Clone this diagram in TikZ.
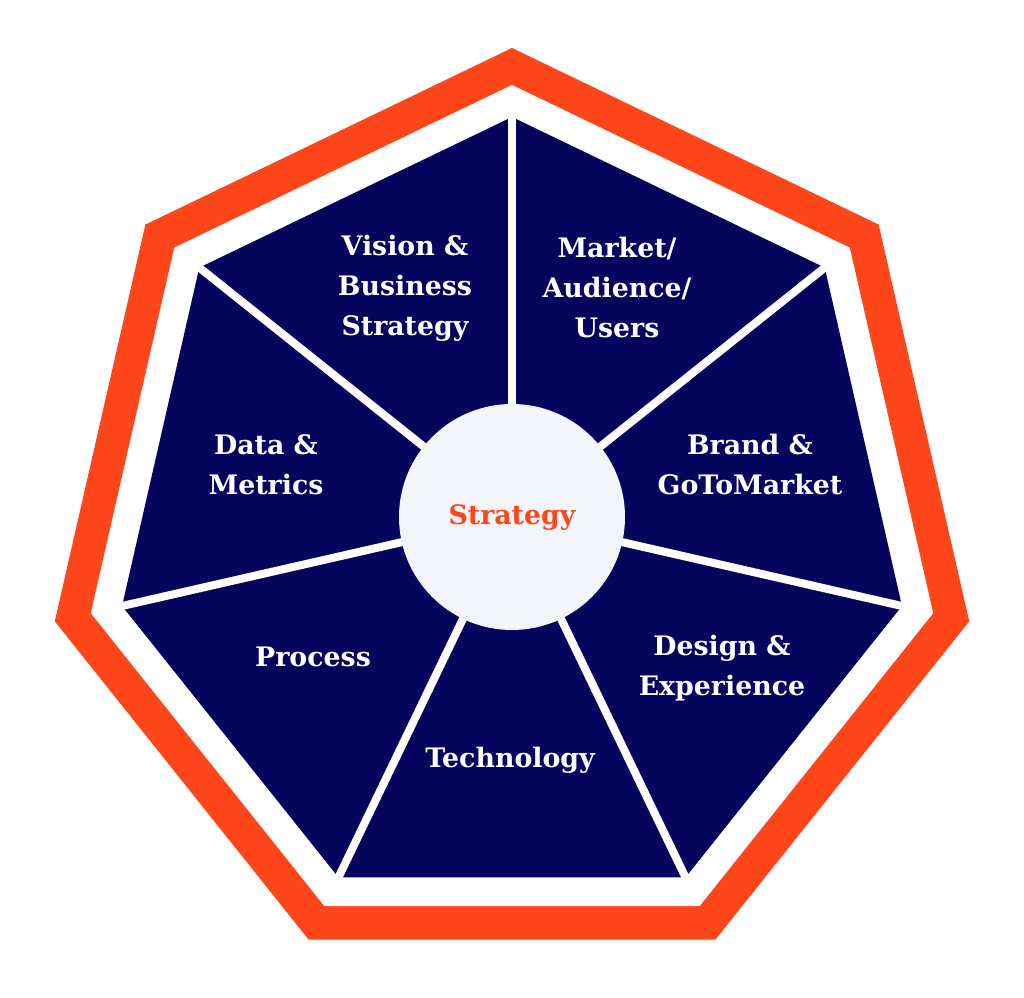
\documentclass[tikz,border=0pt]{standalone}
\usepackage{fontspec}
\usetikzlibrary{calc}
\setmainfont{DejaVu Serif}
\definecolor{orng}{HTML}{FF451A}
\definecolor{navy}{HTML}{05055E}
\definecolor{pale}{HTML}{F4F5FA}
\begin{document}
\begin{tikzpicture}[x=1pt,y=1pt,
  lbl/.style={text=white,font=\fontsize{26.8}{40}\selectfont\bfseries,align=center}]
\useasboundingbox (0,0) rectangle (1024,997);
\coordinate (c) at (512,480);
\fill[orng] (c) ++(90:469) \foreach \k in {1,...,6}{ -- ($(c)+({90-\k*360/7}:469)$)} -- cycle;
\fill[white] (c) ++(90:432) \foreach \k in {1,...,6}{ -- ($(c)+({90-\k*360/7}:432)$)} -- cycle;
\fill[navy] (c) ++(90:400) \foreach \k in {1,...,6}{ -- ($(c)+({90-\k*360/7}:400)$)} -- cycle;
\foreach \k in {0,...,6}{
  \coordinate (v\k) at ($(c)+({90-\k*360/7}:400)$);
  \draw[white,line width=8] (c) -- (v\k);
}
\node[circle,fill=pale,minimum size=226,inner sep=0] (ctr) at (c) {};
\node[text=orng,font=\fontsize{26.8}{30}\selectfont\bfseries] (st) at (512,479) {Strategy};
\node[lbl] (n1) at (405,709) {Vision \&\\Business\\Strategy};
\node[lbl] (n2) at (617,709) {Market/\\Audience/\\Users};
\node[lbl] (n3) at (750,532) {Brand \&\\GoToMarket};
\node[lbl] (n4) at (722,329) {Design \&\\Experience};
\node[lbl] (n5) at (510,237) {Technology};
\node[lbl] (n6) at (313,340) {Process};
\node[lbl] (n7) at (266,532) {Data \&\\Metrics};
\end{tikzpicture}
\end{document}
